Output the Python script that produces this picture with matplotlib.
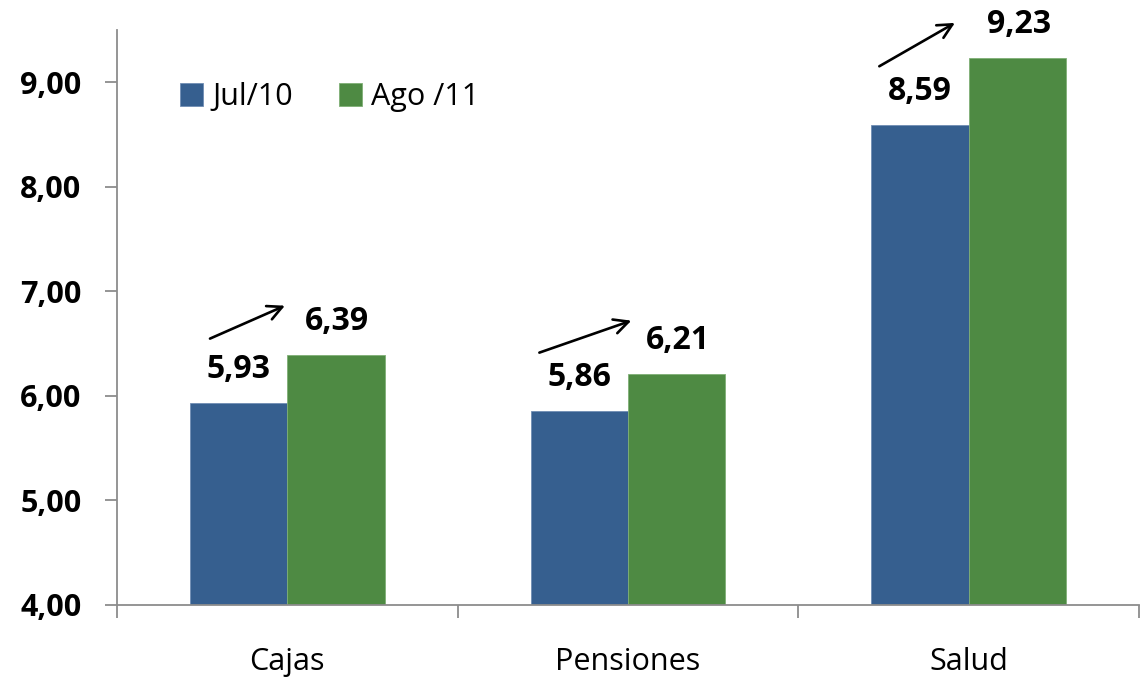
import matplotlib
matplotlib.use("Agg")
import matplotlib.pyplot as plt
import numpy as np

categories = ["Cajas", "Pensiones", "Salud"]
series_names = ["Jul/10", "Ago /11"]
jul10 = [5.93, 5.86, 8.59]
ago11 = [6.39, 6.21, 9.23]
ytick_vals = [4, 5, 6, 7, 8, 9]
ytick_labels = ["4,00", "5,00", "6,00", "7,00", "8,00", "9,00"]

blue = "#365F8F"
green = "#4E8A43"
axis_gray = "#8C8C8C"

plt.rcParams['font.family'] = ['Open Sans', 'DejaVu Sans']

fig = plt.figure(figsize=(11.4, 6.81), dpi=100)
ax = fig.add_axes([117/1140, 1 - 605/681, 1 - 117/1140 - 0.001, (605 - 30)/681])

x = np.arange(len(categories))
w = 0.286
ax.bar(x - w/2, [v - 4 for v in jul10], w, bottom=4, color=blue, edgecolor="#6F8DB3", linewidth=0.6, label=series_names[0])
ax.bar(x + w/2, [v - 4 for v in ago11], w, bottom=4, color=green, edgecolor="#7FAF75", linewidth=0.6, label=series_names[1])

ax.set_xlim(-0.5, 2.5)
ax.set_ylim(4, 9.5)
ax.set_yticks(ytick_vals)
ax.set_yticklabels(ytick_labels, fontsize=22, fontweight="bold")
ax.set_xticks([-0.5, 0.5, 1.5, 2.5])
ax.set_xticklabels([])
ax.set_xticks(x, minor=True)
ax.set_xticklabels(categories, minor=True, fontsize=22)
ax.tick_params(axis="x", which="minor", length=0, pad=30)
ax.tick_params(axis="x", which="major", length=9, width=1.3, color=axis_gray, direction="out")
ax.tick_params(axis="y", length=8.5, width=1.3, color=axis_gray, direction="out", pad=17)

for s in ["top", "right"]:
    ax.spines[s].set_visible(False)
for s in ["left", "bottom"]:
    ax.spines[s].set_color(axis_gray)
    ax.spines[s].set_linewidth(1.3)

def fmt(v):
    return f"{v:.2f}".replace(".", ",")

# arrow geometry (relative to category centre / blue value)
arr_start = [(-0.227, 0.618), (-0.260, 0.554), (-0.262, 0.563)]
arr_end = [(-0.007, 0.933), (0.010, 0.860), (-0.040, 0.978)]

for i in range(len(categories)):
    ax.annotate(fmt(jul10[i]), (x[i] - w/2, jul10[i]), xytext=(0, 24), textcoords="offset points",
                ha="center", va="center", fontsize=23, fontweight="bold", annotation_clip=False)
    ax.annotate(fmt(ago11[i]), (x[i] + w/2, ago11[i]), xytext=(1, 24), textcoords="offset points",
                ha="center", va="center", fontsize=23, fontweight="bold", annotation_clip=False)
    ax.annotate("", xy=(x[i] + arr_end[i][0], jul10[i] + arr_end[i][1]),
                xytext=(x[i] + arr_start[i][0], jul10[i] + arr_start[i][1]),
                arrowprops=dict(arrowstyle="->", color="black", lw=1.9, mutation_scale=26,
                                shrinkA=0, shrinkB=0),
                annotation_clip=False)

leg = ax.legend(loc="upper left", bbox_to_anchor=(0.035, 0.957), ncol=2, frameon=False,
                fontsize=22, handlelength=0.75, handleheight=0.75, handletextpad=0.3, columnspacing=1.5)

fig.savefig("out.png", dpi=100)
